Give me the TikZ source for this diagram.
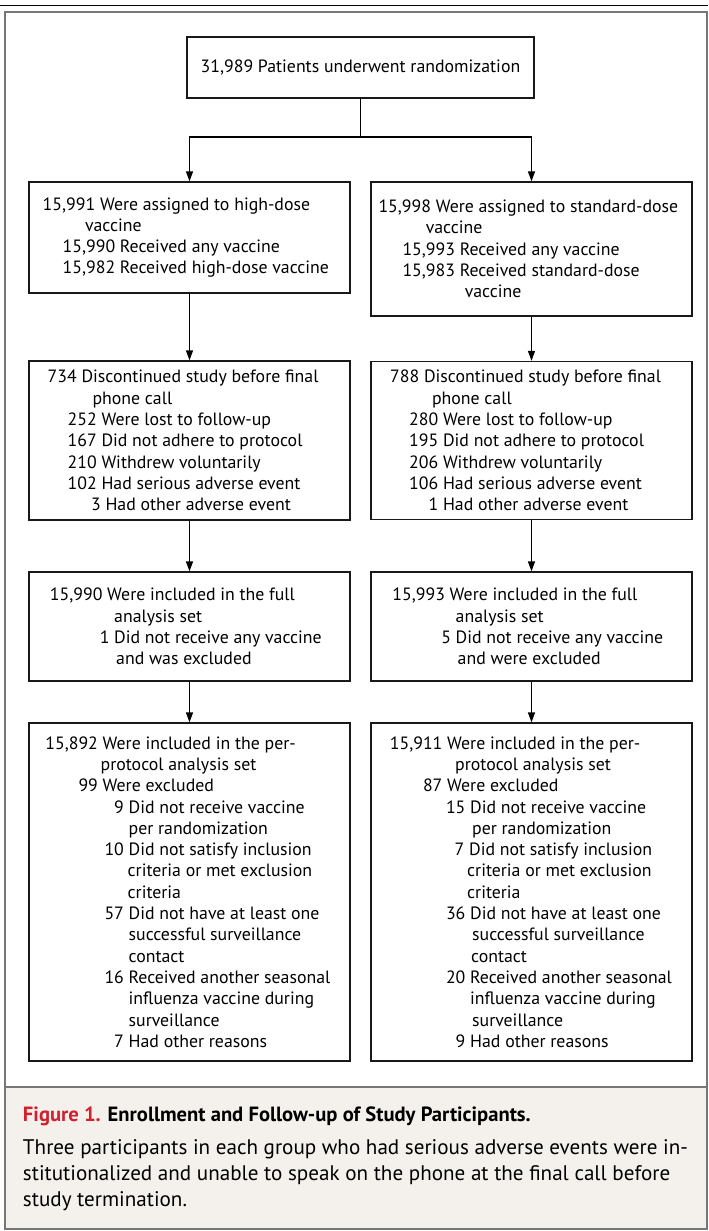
\documentclass[tikz,border=0pt]{standalone}
\usepackage{fontspec}
\setmainfont{PT Sans}
\usepackage{tikz}
\usetikzlibrary{arrows.meta}

\definecolor{nejmred}{HTML}{D0202E}
\definecolor{capbg}{HTML}{F4F1EC}
\definecolor{framegray}{HTML}{777777}
\newlength\px
\setlength\px{0.5pt}
% number set flush right, text after it starts at #1 px
\newcommand\numat[2]{\makebox[#1\px][r]{#2\ }}
\newcommand\contat[1]{\hspace*{#1\px}}

\begin{document}
\begin{tikzpicture}[x=0.5pt,y=-0.5pt,
    box/.style={draw=black!90,line width=0.65pt,inner sep=0pt,minimum width=160.5pt,
      align=left,font=\fontsize{8.9}{10.65}\selectfont},
    link/.style={line width=0.65pt},
    >={Triangle[length=5pt,width=3.5pt]}]
  \useasboundingbox (0,0) rectangle (708,1231);
  % frame and caption panel
  \fill[capbg] (5,1087) rectangle (707,1229);
  \draw[framegray,line width=1pt] (5,12) rectangle (707,1229);
  \draw[framegray,line width=1pt] (5,1087) -- (707,1087);
  \draw[line width=0.65pt] (0,5.5) -- (708,5.5);

  \node[box,minimum width=173.5pt,minimum height=30.5pt,align=center] (rand) at (360.5,67.5)
    {31,989 Patients underwent randomization};

  \node[box,minimum height=55.5pt] (hd1) at (189.5,237.5) {%
    \numat{50}{15,991}Were assigned to high-dose\\
    \contat{35}vaccine\\
    \numat{70}{15,990}Received any vaccine\\
    \numat{70}{15,982}Received high-dose vaccine};
  \node[box,minimum height=67pt] (sd1) at (531.5,249) {%
    \numat{51}{15,998}Were assigned to standard-dose\\
    \contat{41}vaccine\\
    \numat{75}{15,993}Received any vaccine\\
    \numat{75}{15,983}Received standard-dose\\
    \contat{80}vaccine};

  \node[box,minimum height=79.5pt] (hd2) at (189.5,440.5) {%
    \numat{21}{734}Discontinued study before final\\
    \contat{32}phone call\\
    \numat{41}{252}Were lost to follow-up\\
    \numat{41}{167}Did not adhere to protocol\\
    \numat{41}{210}Withdrew voluntarily\\
    \numat{41}{102}Had serious adverse event\\
    \numat{45}{3}Had other adverse event};
  \node[box,minimum height=79pt] (sd2) at (531.5,440.5) {%
    \numat{22}{788}Discontinued study before final\\
    \contat{30}phone call\\
    \numat{41}{280}Were lost to follow-up\\
    \numat{41}{195}Did not adhere to protocol\\
    \numat{41}{206}Withdrew voluntarily\\
    \numat{41}{106}Had serious adverse event\\
    \numat{41}{1}Had other adverse event};

  \node[box,minimum height=54.5pt] (hd3) at (189.5,626.5) {%
    \numat{50}{15,990}Were included in the full\\
    \contat{57}analysis set\\
    \numat{57}{1}Did not receive any vaccine\\
    \contat{59}and was excluded};
  \node[box,minimum height=54.5pt] (sd3) at (531.5,626.5) {%
    \numat{50}{15,993}Were included in the full\\
    \contat{56}analysis set\\
    \numat{56}{5}Did not receive any vaccine\\
    \contat{58}and were excluded};

  \node[box,minimum height=169pt] (hd4) at (189.5,892) {%
    \numat{54}{15,892}Were included in the per-\\
    \contat{52}protocol analysis set\\
    \numat{54}{99}Were excluded\\
    \numat{80}{9}Did not receive vaccine\\
    \contat{80}per randomization\\
    \numat{80}{10}Did not satisfy inclusion\\
    \contat{79}criteria or met exclusion\\
    \contat{79}criteria\\
    \numat{80}{57}Did not have at least one\\
    \contat{80}successful surveillance\\
    \contat{80}contact\\
    \numat{80}{16}Received another seasonal\\
    \contat{80}influenza vaccine during\\
    \contat{80}surveillance\\
    \numat{80}{7}Had other reasons};
  \node[box,minimum height=169pt] (sd4) at (531.5,892) {%
    \numat{56}{15,911}Were included in the per-\\
    \contat{64}protocol analysis set\\
    \numat{56}{87}Were excluded\\
    \numat{79}{15}Did not receive vaccine\\
    \contat{81}per randomization\\
    \numat{78}{7}Did not satisfy inclusion\\
    \contat{76}criteria or met exclusion\\
    \contat{76}criteria\\
    \numat{79}{36}Did not have at least one\\
    \contat{81}successful surveillance\\
    \contat{80}contact\\
    \numat{79}{20}Received another seasonal\\
    \contat{79}influenza vaccine during\\
    \contat{81}surveillance\\
    \numat{79}{9}Had other reasons};

  % connectors
  \coordinate (split) at (360.5,137);
  \draw[link] (rand) -- (split);
  \draw[link,->] (split) -| (hd1.north);
  \draw[link,->] (split) -| (sd1.north);
  \foreach \a/\b in {hd1/hd2,hd2/hd3,hd3/hd4,sd1/sd2,sd2/sd3,sd3/sd4}
    \draw[link,->] (\a) -- (\b);

  % caption
  \node[anchor=base west,inner sep=0pt,font=\bfseries\fontsize{10.3}{12}\selectfont] (title) at (22.6,1121)
    {\textcolor{nejmred}{Figure 1.} Enrollment and Follow-up of Study Participants.};
  \node[anchor=north west,inner sep=0pt,align=left,font=\fontsize{10.55}{13}\selectfont] (note) at (22.6,1139)
    {Three participants in each group who had serious adverse events were in-\\
     stitutionalized and unable to speak on the phone at the final call before\\
     study termination.};
\end{tikzpicture}
\end{document}
